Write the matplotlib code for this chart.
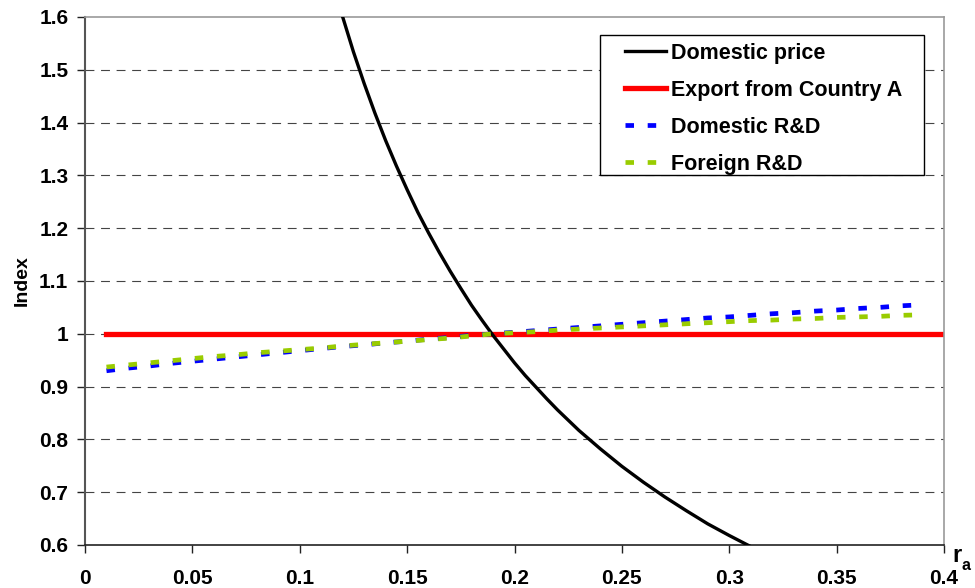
import matplotlib
matplotlib.use("Agg")
import matplotlib.pyplot as plt
from matplotlib.patches import Rectangle

plt.rcParams['font.family'] = ['Liberation Sans', 'DejaVu Sans']
plt.rcParams['font.weight'] = 'bold'

# ---- data ----
price_x = [0.10, 0.11, 0.115, 0.12, 0.125, 0.13, 0.135, 0.14, 0.145, 0.15, 0.155,
           0.16, 0.165, 0.17, 0.175, 0.18, 0.185, 0.19, 0.195, 0.20, 0.205, 0.21,
           0.215, 0.22, 0.23, 0.24, 0.25, 0.26, 0.27, 0.28, 0.29, 0.30, 0.31, 0.32]
price_y = [1.927, 1.749, 1.671, 1.600, 1.534, 1.474, 1.418, 1.366, 1.318, 1.273, 1.230,
           1.191, 1.154, 1.119, 1.086, 1.054, 1.025, 0.997, 0.971, 0.945, 0.921, 0.899,
           0.877, 0.856, 0.817, 0.782, 0.749, 0.719, 0.691, 0.665, 0.640, 0.618, 0.597, 0.577]

export_x = [0.01, 0.05, 0.10, 0.15, 0.20, 0.25, 0.30, 0.35, 0.40]
export_y = [1.0, 1.0, 1.0, 1.0, 1.0, 1.0, 1.0, 1.0, 1.0]

rd_x = [0.01, 0.02, 0.03, 0.04, 0.05, 0.06, 0.07, 0.08, 0.09, 0.10,
        0.11, 0.12, 0.13, 0.14, 0.15, 0.16, 0.17, 0.18, 0.19, 0.20,
        0.21, 0.22, 0.23, 0.24, 0.25, 0.26, 0.27, 0.28, 0.29, 0.30,
        0.31, 0.32, 0.33, 0.34, 0.35, 0.36, 0.37, 0.38, 0.39]
dom_rd = [0.930, 0.935, 0.939, 0.944, 0.948, 0.952, 0.956, 0.960, 0.964, 0.968,
          0.972, 0.976, 0.979, 0.983, 0.986, 0.990, 0.993, 0.997, 1.000, 1.003,
          1.006, 1.009, 1.012, 1.015, 1.018, 1.021, 1.024, 1.027, 1.030, 1.032,
          1.035, 1.038, 1.040, 1.043, 1.045, 1.048, 1.050, 1.053, 1.055]
for_rd = [0.937, 0.941, 0.945, 0.949, 0.953, 0.957, 0.960, 0.964, 0.967, 0.970,
          0.973, 0.977, 0.980, 0.983, 0.986, 0.989, 0.992, 0.996, 1.000, 1.002,
          1.004, 1.007, 1.009, 1.011, 1.013, 1.015, 1.017, 1.019, 1.021, 1.023,
          1.025, 1.026, 1.028, 1.029, 1.031, 1.032, 1.033, 1.035, 1.036]

xticks = [0, 0.05, 0.1, 0.15, 0.2, 0.25, 0.3, 0.35, 0.4]
xtick_labels = ['0', '0.05', '0.1', '0.15', '0.2', '0.25', '0.3', '0.35', '0.4']
yticks = [0.6, 0.7, 0.8, 0.9, 1.0, 1.1, 1.2, 1.3, 1.4, 1.5, 1.6]
ytick_labels = ['0.6', '0.7', '0.8', '0.9', '1', '1.1', '1.2', '1.3', '1.4', '1.5', '1.6']

# ---- figure ----
W, H = 975, 588
fig = plt.figure(figsize=(9.75, 5.88), dpi=100)
ax = fig.add_axes([85/W, 1-545/H, (944-85)/W, (545-17)/H])

ax.set_xlim(0, 0.4)
ax.set_ylim(0.6, 1.6)

for yv in yticks[1:-1]:
    ax.axhline(yv, color='#444444', lw=0.8, dashes=(8, 6), zorder=1)

lw_dash = 3.4
ax.plot(price_x, price_y, color='black', lw=2.4, zorder=3, label='Domestic price')
ax.plot(export_x, export_y, color='#FF0000', lw=3.8, zorder=2, label='Export from Country A')
ax.plot(rd_x, dom_rd, color='#0000FF', lw=lw_dash, dashes=(1.8, 2.9), zorder=4, label='Domestic R&D')
ax.plot(rd_x, for_rd, color='#99CC00', lw=lw_dash, dashes=(1.8, 2.9), zorder=5, label='Foreign R&D')

ax.set_xticks(xticks)
ax.set_xticklabels(xtick_labels)
ax.set_yticks(yticks)
ax.set_yticklabels(ytick_labels)
ax.tick_params(axis='both', direction='out', length=6, width=1, colors='#222222',
               labelsize=15, labelcolor='black')
ax.tick_params(axis='x', pad=11)
ax.tick_params(axis='y', pad=6)
for lab in ax.get_xticklabels() + ax.get_yticklabels():
    lab.set_fontweight('bold')

ax.spines['left'].set_color('#555555')
ax.spines['left'].set_linewidth(1.5)
ax.spines['bottom'].set_color('#222222')
ax.spines['bottom'].set_linewidth(1.2)
ax.spines['right'].set_color('#999999')
ax.spines['right'].set_linewidth(1.2)
ax.spines['top'].set_color('#999999')
ax.spines['top'].set_linewidth(1.2)

ax.set_ylabel('Index', fontsize=14, fontweight='bold', labelpad=6)

fig.text(952/W, 1-562/H, 'r', fontsize=17, fontweight='bold', ha='left', va='baseline')
fig.text(962/W, 1-570/H, 'a', fontsize=11.5, fontweight='bold', ha='left', va='baseline')

# legend box
fig.patches.append(Rectangle((600/W, 1-175/H), (924-600)/W, (175-35)/H,
                             transform=fig.transFigure, facecolor='white',
                             edgecolor='black', lw=1.0, zorder=10))
leg = fig.legend(*ax.get_legend_handles_labels(), loc='upper left',
                 bbox_to_anchor=(625/W, 1-43/H), frameon=False, fontsize=15.5,
                 handlelength=1.9, handletextpad=0.25, labelspacing=0.74,
                 borderpad=0, borderaxespad=0)
leg.set_zorder(11)
for t in leg.get_texts():
    t.set_fontweight('bold')

fig.savefig('out.png', dpi=100)
